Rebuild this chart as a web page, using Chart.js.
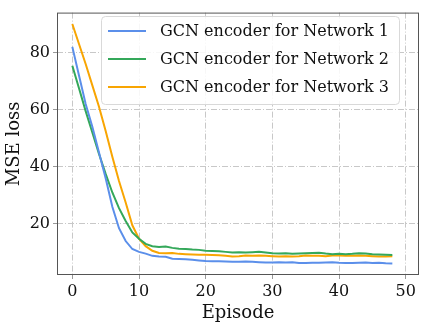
<!DOCTYPE html>
<html>
<head>
<meta charset="utf-8">
<script src="https://cdn.jsdelivr.net/npm/chart.js@4.4.1/dist/chart.umd.min.js"></script>
<style>
  html, body { margin: 0; padding: 0; background: #fff; }
  #wrap { width: 423px; height: 332px; }
</style>
</head>
<body>
<div id="wrap"><canvas id="c" width="423" height="332"></canvas></div>
<script>
const episodes = [];
for (let i = 0; i <= 48; i++) episodes.push(i);

const labels = ['GCN encoder for Network 1', 'GCN encoder for Network 2', 'GCN encoder for Network 3'];
const colors = ['#5b8fea', '#34a85a', '#f8a502'];

const net1 = [82, 72, 62, 54, 45, 36, 26, 18.5, 14, 11.2,
  10.2, 9.6, 8.8, 8.6, 8.5, 7.8, 7.7, 7.6, 7.4, 7.2,
  7.0, 6.9, 6.9, 6.8, 6.7, 6.7, 6.8, 6.7, 6.6, 6.5,
  6.5, 6.6, 6.5, 6.6, 6.3, 6.3, 6.4, 6.4, 6.5, 6.6,
  6.4, 6.3, 6.3, 6.4, 6.5, 6.3, 6.4, 6.2, 6.1];
const net2 = [75.4, 67.5, 59.5, 52, 44.5, 37.5, 31, 25.5, 21, 17,
  14.8, 13, 12.2, 11.9, 12.1, 11.6, 11.3, 11.2, 11.0, 10.9,
  10.6, 10.5, 10.4, 10.2, 10.0, 10.1, 10.0, 10.1, 10.2, 10.0,
  9.7, 9.6, 9.7, 9.5, 9.6, 9.7, 9.8, 9.9, 9.6, 9.4,
  9.5, 9.4, 9.5, 9.7, 9.6, 9.4, 9.3, 9.2, 9.1];
const net3 = [90, 83, 76, 68.5, 61, 52.5, 43.5, 35, 27.5, 19.5,
  14.8, 12.2, 10.6, 9.8, 9.7, 9.8, 9.5, 9.4, 9.3, 9.2,
  9.2, 9.1, 9.0, 8.8, 8.6, 8.7, 8.9, 8.8, 8.9, 8.8,
  8.7, 8.6, 8.7, 8.6, 8.7, 8.9, 8.8, 8.8, 8.7, 8.9,
  8.9, 8.8, 8.8, 8.9, 8.8, 8.7, 8.6, 8.6, 8.7];

const xTicks = [0, 10, 20, 30, 40, 50];
const yTicks = [20, 40, 60, 80];

const FONT = "'DejaVu Serif', 'Liberation Serif', serif";

function pts(arr) {
  return episodes.map((e, i) => ({ x: e, y: arr[i] }));
}

// frame round the plot + legend box in the top right
const framePlugin = {
  id: 'frame',
  afterDraw(chart) {
    const { ctx, chartArea: a } = chart;
    ctx.save();
    ctx.strokeStyle = '#555';
    ctx.lineWidth = 1;
    ctx.strokeRect(a.left + 0.5, a.top + 0.5, a.right - a.left - 1, a.bottom - a.top - 1);

    // legend
    const bx = 101, by = 16, bw = 298, bh = 88;
    ctx.fillStyle = 'rgba(255,255,255,0.85)';
    ctx.strokeStyle = '#d9d9d9';
    ctx.beginPath();
    ctx.roundRect(bx + 0.5, by + 0.5, bw, bh, 4);
    ctx.fill();
    ctx.stroke();
    ctx.font = '16px ' + FONT;
    ctx.textBaseline = 'middle';
    chart.data.datasets.forEach((ds, i) => {
      const y = by + 15 + i * 28;
      ctx.strokeStyle = ds.borderColor;
      ctx.lineWidth = 2;
      ctx.beginPath();
      ctx.moveTo(108, y);
      ctx.lineTo(146, y);
      ctx.stroke();
      ctx.fillStyle = '#111';
      ctx.fillText(ds.label, 160, y + 1);
    });
    ctx.restore();
  }
};

const gridOpts = { color: '#c8c8c8', tickLength: 4, tickColor: '#999' };
const borderOpts = { display: false, dash: [6, 2, 1, 2] };

new Chart(document.getElementById('c'), {
  type: 'line',
  data: {
    datasets: [
      { label: labels[0], data: pts(net1), borderColor: colors[0] },
      { label: labels[1], data: pts(net2), borderColor: colors[1] },
      { label: labels[2], data: pts(net3), borderColor: colors[2] }
    ]
  },
  options: {
    responsive: false,
    animation: false,
    layout: { padding: { top: 7, right: 4, left: 0, bottom: 0 } },
    elements: {
      line: { borderWidth: 2, tension: 0, fill: false },
      point: { radius: 0 }
    },
    plugins: {
      legend: { display: false },
      tooltip: { enabled: false }
    },
    scales: {
      x: {
        type: 'linear',
        min: -2.3,
        max: 52,
        afterBuildTicks: (s) => { s.ticks = xTicks.map(v => ({ value: v })); },
        afterFit: (s) => { s.height = 57; },
        grid: gridOpts,
        border: borderOpts,
        ticks: { color: '#111', font: { family: FONT, size: 16 }, padding: 3, maxRotation: 0 },
        title: { display: true, text: 'Episode', color: '#111', font: { family: FONT, size: 18 }, padding: { top: 0, bottom: 8 } }
      },
      y: {
        min: 2.1,
        max: 94,
        afterBuildTicks: (s) => { s.ticks = yTicks.map(v => ({ value: v })); },
        afterFit: (s) => { s.width = 57; },
        grid: gridOpts,
        border: borderOpts,
        ticks: { color: '#111', font: { family: FONT, size: 16 }, padding: 3 },
        title: { display: true, text: 'MSE loss', color: '#111', font: { family: FONT, size: 18 }, padding: { bottom: 2 } }
      }
    }
  },
  plugins: [framePlugin]
});
</script>
</body>
</html>
